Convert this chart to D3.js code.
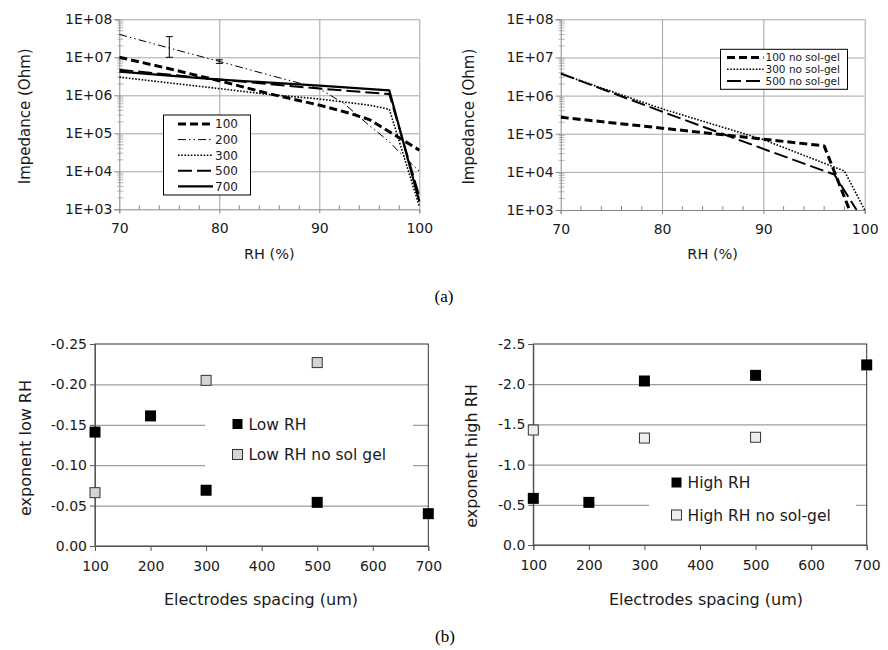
<!DOCTYPE html>
<html>
<head>
<meta charset="utf-8">
<script src="https://cdn.jsdelivr.net/npm/d3@7"></script>
<style>
body { margin: 0; background: #fff; }
svg { font-family: "DejaVu Sans", sans-serif; }
</style>
</head>
<body>
<div id="chart"></div>
<script>
// ---- values ----
// (a) left: impedance vs RH, sensors with sol-gel, one list per electrode spacing (um)
var namesSolGel = ["100", "200", "300", "500", "700"];
var rh100 = [70, 75, 80, 85, 90, 93, 95, 97, 100];
var imp100 = [1e7, 5e6, 2.4e6, 1.1e6, 5.5e5, 3.4e5, 2.3e5, 1.1e5, 3.6e4];
var rh200 = [70, 75, 80, 85, 88, 90, 92.5, 95, 97, 98, 100];
var imp200 = [4e7, 1.75e7, 7.8e6, 3.4e6, 2.1e6, 1.5e6, 6e5, 1.6e5, 6e4, 3.2e4, 1e4];
var rh300 = [70, 80, 85, 90, 95, 97, 100];
var imp300 = [3e6, 1.5e6, 1.05e6, 8e5, 5.5e5, 4.3e5, 1.2e3];
var rh500 = [70, 80, 90, 97, 100];
var imp500 = [4.7e6, 2.6e6, 1.5e6, 1.08e6, 2.2e3];
var rh700 = [70, 80, 90, 97, 100];
var imp700 = [4.2e6, 2.6e6, 1.8e6, 1.35e6, 1.6e3];
// error bars on the 200 curve
var errRH = [75, 80];
var errLow = [1e7, 6.9e6];
var errHigh = [3.5e7, 8.6e6];

// (a) right: sensors without sol-gel
var namesNoSolGel = ["100 no sol-gel", "300 no sol-gel", "500 no sol-gel"];
var rhN100 = [70, 80, 90, 96, 98.5];
var impN100 = [2.7e5, 1.4e5, 7.2e4, 4.8e4, 1e3];
var rhN300 = [70, 80, 90, 98, 100];
var impN300 = [3.7e6, 4.5e5, 7e4, 1.05e4, 1e3];
var rhN500 = [70, 80, 90, 97, 99.2];
var impN500 = [3.8e6, 3.8e5, 4e4, 8.5e3, 1e3];

// (b) fitted exponents vs electrode spacing
var spacing = [100, 200, 300, 500, 700];
var spacingNoSolGel = [100, 300, 500];
var lowRH = [-0.141, -0.161, -0.069, -0.054, -0.040];
var lowRHNoSolGel = [-0.066, -0.205, -0.227];
var highRH = [-0.58, -0.53, -2.04, -2.11, -2.24];
var highRHNoSolGel = [-1.43, -1.33, -1.34];

// ticks
var rhTicks = [70, 80, 90, 100];
var impTicks = [1e3, 1e4, 1e5, 1e6, 1e7, 1e8];
var spacingTicks = [100, 200, 300, 400, 500, 600, 700];
var lowTicks = [0, -0.05, -0.10, -0.15, -0.20, -0.25];
var highTicks = [0, -0.5, -1.0, -1.5, -2.0, -2.5];

// line styles (black lines, told apart by dash)
var styleSolGel = [
    { w: 3, dash: "8,4" },
    { w: 1, dash: "8,3,1.5,3,1.5,3" },
    { w: 1.6, dash: "1.6,1.6" },
    { w: 2, dash: "14,5" },
    { w: 2.2, dash: null }
];
var styleNoSolGel = [
    { w: 3, dash: "8,4" },
    { w: 1.6, dash: "1.6,1.6" },
    { w: 2, dash: "14,5" }
];

var svg = d3.select("#chart").append("svg").attr("width", 888).attr("height", 650);

var expFormat = function (d) {
    return "1E+" + String(Math.round(Math.log10(d))).padStart(2, "0");
};

function impedancePanel(box, series, styles, names, legend, clipId) {
    var x = d3.scaleLinear().domain([70, 100]).range([box.left, box.right]);
    var y = d3.scaleLog().domain([1e3, 1e8]).range([box.bottom, box.top]);
    var g = svg.append("g");
    var w = box.right - box.left, h = box.bottom - box.top;

    // grid
    g.append("g").attr("transform", "translate(0," + box.bottom + ")")
        .call(d3.axisBottom(x).tickValues(rhTicks.slice(1)).tickSize(-h).tickFormat(""))
        .call(function (s) { s.select(".domain").remove(); s.selectAll("line").attr("stroke", "#a6a6a6"); });
    g.append("g").attr("transform", "translate(" + box.left + ",0)")
        .call(d3.axisLeft(y).tickValues(impTicks.slice(1)).tickSize(-w).tickFormat(""))
        .call(function (s) { s.select(".domain").remove(); s.selectAll("line").attr("stroke", "#a6a6a6"); });

    // minor ticks
    var minorY = [];
    impTicks.slice(0, -1).forEach(function (t) { for (var m = 2; m < 10; m++) minorY.push(t * m); });
    g.selectAll(".minorY").data(minorY).join("line")
        .attr("x1", box.left - 2).attr("x2", box.left + 4)
        .attr("y1", function (d) { return y(d); }).attr("y2", function (d) { return y(d); })
        .attr("stroke", "#b5b5b5");
    var minorX = d3.range(72, 100, 2).filter(function (d) { return d % 10 !== 0; });
    g.selectAll(".minorX").data(minorX).join("line")
        .attr("x1", function (d) { return x(d); }).attr("x2", function (d) { return x(d); })
        .attr("y1", box.bottom - 4).attr("y2", box.bottom)
        .attr("stroke", "#888");

    // axes
    var ya = g.append("g").attr("transform", "translate(" + box.left + ",0)")
        .call(d3.axisLeft(y).tickValues(impTicks).tickSize(5).tickPadding(2).tickFormat(expFormat));
    var xa = g.append("g").attr("transform", "translate(0," + box.bottom + ")")
        .call(d3.axisBottom(x).tickValues(rhTicks).tickSize(4).tickPadding(10));
    [ya, xa].forEach(function (a) {
        a.select(".domain").attr("stroke", "#888");
        a.selectAll(".tick line").attr("stroke", "#888");
        a.selectAll("text").attr("font-family", "DejaVu Sans").attr("font-size", 14).attr("fill", "#1a1a1a");
    });

    // lines
    svg.append("clipPath").attr("id", clipId).append("rect")
        .attr("x", box.left).attr("y", box.top - 2).attr("width", w + 2).attr("height", h + 2);
    var line = d3.line().x(function (d) { return x(d[0]); }).y(function (d) { return y(d[1]); });
    var lg = g.append("g").attr("clip-path", "url(#" + clipId + ")");
    series.forEach(function (s, i) {
        lg.append("path").datum(d3.zip(s[0], s[1]))
            .attr("d", line).attr("fill", "none").attr("stroke", "#000")
            .attr("stroke-width", styles[i].w)
            .attr("stroke-dasharray", styles[i].dash)
            .attr("stroke-linejoin", "round");
    });

    // legend
    var lb = g.append("g");
    lb.append("rect").attr("x", legend.x).attr("y", legend.y).attr("width", legend.w).attr("height", legend.h)
        .attr("fill", "#fff").attr("stroke", "#000");
    names.forEach(function (n, i) {
        var cy = legend.y0 + i * legend.step;
        lb.append("line").attr("x1", legend.lx0).attr("x2", legend.lx1).attr("y1", cy).attr("y2", cy)
            .attr("stroke", "#000").attr("stroke-width", styles[i].w).attr("stroke-dasharray", styles[i].dash);
        lb.append("text").attr("x", legend.lx1 + 2).attr("y", cy + legend.fs * 0.36)
            .attr("font-size", legend.fs).attr("fill", "#1a1a1a").text(n);
    });

    // titles
    g.append("text").attr("transform", "translate(" + box.titleY + "," + ((box.top + box.bottom) / 2 + 2) + ") rotate(-90)")
        .attr("text-anchor", "middle").attr("font-size", 15).attr("fill", "#1a1a1a").text("Impedance (Ohm)");
    g.append("text").attr("x", (box.left + box.right) / 2).attr("y", 259)
        .attr("text-anchor", "middle").attr("font-size", 14.5).attr("fill", "#1a1a1a").text("RH (%)");
    return { x: x, y: y, g: g };
}

var left = impedancePanel(
    { left: 119.3, right: 419.3, top: 19.3, bottom: 209.3, titleY: 30 },
    [[rh100, imp100], [rh200, imp200], [rh300, imp300], [rh500, imp500], [rh700, imp700]],
    styleSolGel, namesSolGel,
    { x: 163.5, y: 115, w: 87, h: 80, y0: 124, step: 15.6, lx0: 178, lx1: 213, fs: 12 },
    "clipA");

// error bars on 200 um curve
errRH.forEach(function (r, i) {
    var ex = left.x(r);
    var eg = left.g.append("g").attr("stroke", "#000").attr("stroke-width", 1);
    eg.append("line").attr("x1", ex).attr("x2", ex).attr("y1", left.y(errLow[i])).attr("y2", left.y(errHigh[i]));
    [errLow[i], errHigh[i]].forEach(function (v) {
        eg.append("line").attr("x1", ex - 3.5).attr("x2", ex + 3.5).attr("y1", left.y(v)).attr("y2", left.y(v));
    });
});

impedancePanel(
    { left: 560.7, right: 864.7, top: 19.3, bottom: 210, titleY: 474 },
    [[rhN100, impN100], [rhN300, impN300], [rhN500, impN500]],
    styleNoSolGel, namesNoSolGel,
    { x: 720.5, y: 49.3, w: 127, h: 40, y0: 57.5, step: 11.8, lx0: 727, lx1: 763.5, fs: 10.5 },
    "clipB");

// ---- (b) exponent panels ----
function exponentPanel(box, ticks, fmt, title, black, light, lightFill, legend) {
    var x = d3.scaleLinear().domain([100, 700]).range([box.left, box.right]);
    var y = d3.scaleLinear().domain([0, ticks[ticks.length - 1]]).range([box.bottom, box.top]);
    var g = svg.append("g");
    var w = box.right - box.left;

    g.append("g").attr("transform", "translate(" + box.left + ",0)")
        .call(d3.axisLeft(y).tickValues(ticks.slice(1, -1)).tickSize(-w).tickFormat(""))
        .call(function (s) { s.select(".domain").remove(); s.selectAll("line").attr("stroke", "#858585"); });
    g.append("rect").attr("x", box.left).attr("y", box.top).attr("width", w).attr("height", box.bottom - box.top)
        .attr("fill", "none").attr("stroke", "#333");

    var ya = g.append("g").attr("transform", "translate(" + box.left + ",0)")
        .call(d3.axisLeft(y).tickValues(ticks).tickSize(5).tickPadding(3).tickFormat(fmt));
    var xa = g.append("g").attr("transform", "translate(0," + box.bottom + ")")
        .call(d3.axisBottom(x).tickValues(spacingTicks).tickSize(5).tickPadding(10));
    [ya, xa].forEach(function (a) {
        a.select(".domain").attr("stroke", "#555");
        a.selectAll(".tick line").attr("stroke", "#555");
        a.selectAll("text").attr("font-family", "DejaVu Sans").attr("font-size", 14).attr("fill", "#1a1a1a");
    });

    // legend (white patch over the grid)
    g.append("rect").attr("x", legend.bx).attr("y", legend.by).attr("width", legend.bw).attr("height", legend.bh)
        .attr("fill", "#fff");
    legend.labels.forEach(function (t, i) {
        var cy = legend.y0 + i * legend.step;
        g.append("rect").attr("x", legend.sx).attr("y", cy - 5).attr("width", 10).attr("height", 10)
            .attr("fill", i === 0 ? "#000" : lightFill).attr("stroke", i === 0 ? "none" : "#333");
        g.append("text").attr("x", legend.sx + 16).attr("y", cy + 5.5)
            .attr("font-size", 15.5).attr("fill", "#1a1a1a").text(t);
    });

    g.selectAll(".blk").data(d3.zip(spacing, black)).join("rect")
        .attr("x", function (d) { return x(d[0]) - 5.5; }).attr("y", function (d) { return y(d[1]) - 5.5; })
        .attr("width", 11).attr("height", 11).attr("fill", "#000");
    g.selectAll(".lgt").data(d3.zip(spacingNoSolGel, light)).join("rect")
        .attr("x", function (d) { return x(d[0]) - 5; }).attr("y", function (d) { return y(d[1]) - 5; })
        .attr("width", 10).attr("height", 10).attr("fill", lightFill).attr("stroke", "#333");

    g.append("text").attr("transform", "translate(" + box.titleY + "," + box.titleMid + ") rotate(-90)")
        .attr("text-anchor", "middle").attr("font-size", 16).attr("fill", "#1a1a1a").text(title);
    g.append("text").attr("x", box.titleX).attr("y", 605)
        .attr("text-anchor", "middle").attr("font-size", 16).attr("fill", "#1a1a1a").text("Electrodes spacing (um)");
}

exponentPanel({ left: 95, right: 428.3, top: 344, bottom: 546, titleY: 31, titleMid: 448, titleX: 261 },
    lowTicks, function (d) { return d.toFixed(2); }, "exponent low RH",
    lowRH, lowRHNoSolGel, "#d4d4d4",
    { bx: 205, by: 405, bw: 208, bh: 67, sx: 232.5, y0: 424, step: 30.5, labels: ["Low RH", "Low RH no sol gel"] });

exponentPanel({ left: 533.3, right: 866.7, top: 344, bottom: 545, titleY: 477, titleMid: 456, titleX: 706 },
    highTicks, function (d) { return d.toFixed(1); }, "exponent high RH",
    highRH, highRHNoSolGel, "#eeeeee",
    { bx: 649, by: 470, bw: 207, bh: 60, sx: 671.5, y0: 482.5, step: 32.5, labels: ["High RH", "High RH no sol-gel"] });

// captions
svg.append("text").attr("x", 444).attr("y", 302).attr("text-anchor", "middle")
    .attr("font-family", "Liberation Serif").attr("font-size", 17).text("(a)");
svg.append("text").attr("x", 445).attr("y", 642).attr("text-anchor", "middle")
    .attr("font-family", "Liberation Serif").attr("font-size", 17).text("(b)");
</script>
</body>
</html>
